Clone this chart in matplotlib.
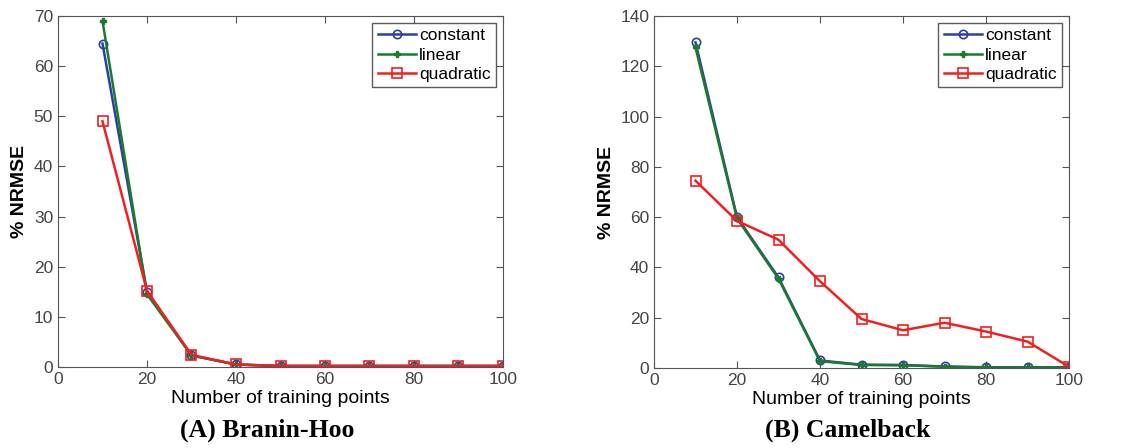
import matplotlib
matplotlib.use('Agg')
import matplotlib.pyplot as plt

x = [10, 20, 30, 40, 50, 60, 70, 80, 90, 100]

# (A) Branin-Hoo
bh_constant = [64.5, 15.0, 2.3, 0.5, 0.2, 0.2, 0.2, 0.2, 0.2, 0.2]
bh_linear = [69.0, 14.5, 2.3, 0.5, 0.2, 0.2, 0.2, 0.2, 0.2, 0.2]
bh_quadratic = [49.0, 15.2, 2.4, 0.5, 0.2, 0.2, 0.2, 0.2, 0.2, 0.2]

# (B) Camelback
cb_constant = [129.5, 60.0, 36.0, 3.0, 1.3, 1.2, 0.6, 0.3, 0.3, 0.3]
cb_linear = [127.5, 59.5, 35.5, 2.7, 1.2, 1.1, 0.5, 0.2, 0.2, 0.2]
cb_quadratic = [74.5, 58.5, 51.0, 34.5, 19.5, 15.0, 18.0, 14.5, 10.5, 0.5]

labels = ['constant', 'linear', 'quadratic']
captions = ['(A) Branin-Hoo', '(B) Camelback']

plt.rcParams['font.family'] = ['Liberation Sans', 'DejaVu Sans']

fig = plt.figure(figsize=(11.23, 4.48), dpi=100)
W, H = 1123, 448
ax1 = fig.add_axes([58 / W, 1 - 367 / H, 445 / W, 351 / H])
ax2 = fig.add_axes([654 / W, 1 - 368 / H, 415 / W, 352 / H])


def draw(ax, c, l, q, ymax, ystep):
    ax.plot(x, c, color='#2b3fa8', marker='o', markersize=6, mfc='none',
            mew=1.2, lw=1.8, label=labels[0])
    ax.plot(x, l, color='#1c7a2e', marker='P', markersize=5, lw=1.8,
            label=labels[1])
    ax.plot(x, q, color='#f02020', marker='s', markersize=7, mfc='none',
            mew=1.2, lw=1.8, label=labels[2])
    ax.set_xlim(0, 100)
    ax.set_ylim(0, ymax)
    ax.set_xticks(range(0, 101, 20))
    ax.set_yticks(range(0, ymax + 1, ystep))
    ax.tick_params(direction='in', top=True, right=True, labelsize=12.5,
                   labelcolor='#444444', length=5, color='#555555')
    for s in ax.spines.values():
        s.set_color('#555555')
    ax.set_xlabel('Number of training points', fontsize=14, labelpad=2)
    ax.set_ylabel('% NRMSE', fontsize=14, fontweight='bold')
    leg = ax.legend(loc='upper right', fontsize=12.5, fancybox=False,
                    edgecolor='#333333', borderpad=0.3, labelspacing=0.25,
                    handlelength=2.2, handletextpad=0.2,
                    borderaxespad=0.4)
    leg.get_frame().set_linewidth(1.0)


draw(ax1, bh_constant, bh_linear, bh_quadratic, 70, 10)
draw(ax2, cb_constant, cb_linear, cb_quadratic, 140, 20)

fig.text(267 / W, 1 - 430 / H, captions[0], ha='center', va='center',
         fontsize=18.5, fontweight='bold', family='Liberation Serif')
fig.text(848 / W, 1 - 430 / H, captions[1], ha='center', va='center',
         fontsize=18.5, fontweight='bold', family='Liberation Serif')

fig.savefig('out.png', dpi=100)
